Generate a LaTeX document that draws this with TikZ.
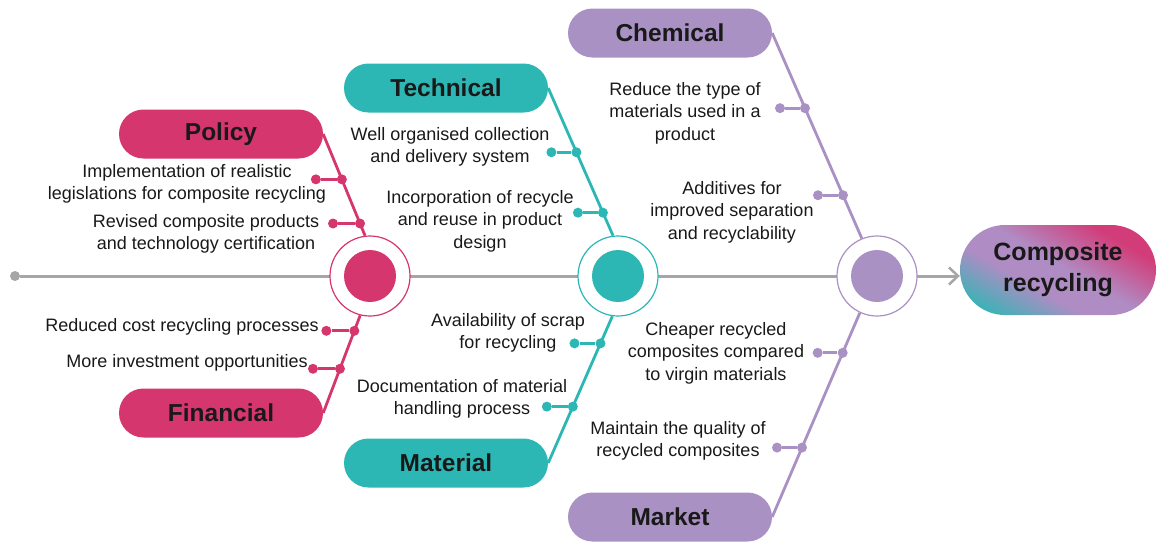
\documentclass[tikz,border=0pt]{standalone}
\usepackage{fontspec}
\setmainfont{Liberation Sans}
\usetikzlibrary{arrows.meta}
\definecolor{polpink}{RGB}{214,54,110}
\definecolor{techteal}{RGB}{45,183,180}
\definecolor{chempurple}{RGB}{169,145,196}
\definecolor{midlilac}{RGB}{176,140,196}
\definecolor{deeppink}{RGB}{210,60,120}
\definecolor{spinegray}{RGB}{166,166,166}
\definecolor{inkgray}{RGB}{25,25,25}
\pgfdeclareverticalshading{goalfade}{100bp}{color(0bp)=(techteal); color(20bp)=(techteal);
    color(40bp)=(midlilac); color(52bp)=(midlilac); color(72bp)=(deeppink); color(100bp)=(deeppink)}

\begin{document}
\begin{tikzpicture}[x=1pt,y=-1pt,
        every node/.style={text=inkgray},
        head/.style={rounded corners=24.5pt, minimum width=204pt, minimum height=49pt, inner sep=0pt,
            font=\fontsize{24.5}{28}\selectfont\bfseries},
        cause/.style={align=center, inner sep=0pt, font=\fontsize{18}{22.5}\selectfont},
        hub/.style={circle, fill=white, line width=1.2pt, minimum size=80pt, inner sep=0pt},
        core/.style={circle, minimum size=52pt, inner sep=0pt},
        bone/.style={line width=2.8pt},
        knot/.style={circle, minimum size=10pt, inner sep=0pt},
        spine/.style={line width=3pt, spinegray}]
        \useasboundingbox (0,0) rectangle (1158,541);

        % head of the fish
        \node[rounded corners=45pt, minimum width=196pt, minimum height=90pt, inner sep=0pt,
            shade, shading=goalfade, shading angle=-30,
            align=center, font=\fontsize{25}{31}\selectfont\bfseries] (goal) at (1058,270) {Composite\\recycling};

        % spine
        \node[knot, fill=spinegray] (tail) at (15,276) {};
        \draw[spine, -{Straight Barb[length=9pt, width=17pt, line width=2.5pt]}] (tail) -- (tail -| goal.west);

        \node[hub, draw=polpink] (hubP) at (370,276) {};
        \node[core, fill=polpink] (hubPin) at (hubP) {};
        \node[hub, draw=techteal] (hubT) at (618,276) {};
        \node[core, fill=techteal] (hubTin) at (hubT) {};
        \node[hub, draw=chempurple] (hubC) at (877,276) {};
        \node[core, fill=chempurple] (hubCin) at (hubC) {};

        % policy
        \begin{scope}[polpink]
            \node[head, fill=polpink] (policy) at (221,134) {Policy};
            \draw[bone] (policy.east) -- (hubP.97) coordinate[pos=.446] (pol1) coordinate[pos=.88] (pol2);
            \node[knot, fill] (pol1a) at (pol1) {};
            \node[knot, fill] (pol1b) at ([xshift=-26pt]pol1) {};
            \draw[bone] (pol1b) -- (pol1a);
            \node[knot, fill] (pol2a) at (pol2) {};
            \node[knot, fill] (pol2b) at ([xshift=-27pt]pol2) {};
            \draw[bone] (pol2b) -- (pol2a);
        \end{scope}
        \node[cause] (poltext1) at (187,184) {Implementation of realistic\\legislations for composite recycling};
        \node[cause] (poltext2) at (206,234) {Revised composite products\\and technology certification};

        % financial
        \begin{scope}[polpink]
            \node[head, fill=polpink] (financial) at (221,413) {Financial};
            \draw[bone] (hubP.256) -- (financial.east) coordinate[pos=.158] (fin1) coordinate[pos=.547] (fin2);
            \node[knot, fill] (fin1a) at (fin1) {};
            \node[knot, fill] (fin1b) at ([xshift=-28pt]fin1) {};
            \draw[bone] (fin1b) -- (fin1a);
            \node[knot, fill] (fin2a) at (fin2) {};
            \node[knot, fill] (fin2b) at ([xshift=-27pt]fin2) {};
            \draw[bone] (fin2b) -- (fin2a);
        \end{scope}
        \node[cause] (fintext1) at (182,327) {Reduced cost recycling processes};
        \node[cause] (fintext2) at (187,363) {More investment opportunities};

        % technical
        \begin{scope}[techteal]
            \node[head, fill=techteal] (technical) at (446,88) {Technical};
            \draw[bone] (technical.east) -- (hubT.97) coordinate[pos=.435] (tec1) coordinate[pos=.844] (tec2);
            \node[knot, fill] (tec1a) at (tec1) {};
            \node[knot, fill] (tec1b) at ([xshift=-25pt]tec1) {};
            \draw[bone] (tec1b) -- (tec1a);
            \node[knot, fill] (tec2a) at (tec2) {};
            \node[knot, fill] (tec2b) at ([xshift=-25pt]tec2) {};
            \draw[bone] (tec2b) -- (tec2a);
        \end{scope}
        \node[cause] (tectext1) at (450,147) {Well organised collection\\and delivery system};
        \node[cause] (tectext2) at (480,221) {Incorporation of recycle\\and reuse in product\\design};

        % material
        \begin{scope}[techteal]
            \node[head, fill=techteal] (material) at (446,463) {Material};
            \draw[bone] (hubT.262) -- (material.east) coordinate[pos=.185] (mat1) coordinate[pos=.616] (mat2);
            \node[knot, fill] (mat1a) at (mat1) {};
            \node[knot, fill] (mat1b) at ([xshift=-26pt]mat1) {};
            \draw[bone] (mat1b) -- (mat1a);
            \node[knot, fill] (mat2a) at (mat2) {};
            \node[knot, fill] (mat2b) at ([xshift=-26pt]mat2) {};
            \draw[bone] (mat2b) -- (mat2a);
        \end{scope}
        \node[cause] (mattext1) at (508,333) {Availability of scrap\\for recycling};
        \node[cause] (mattext2) at (462,399) {Documentation of material\\handling process};

        % chemical
        \begin{scope}[chempurple]
            \node[head, fill=chempurple] (chemical) at (670,33) {Chemical};
            \draw[bone] (chemical.east) -- (hubC.112) coordinate[pos=.366] (che1) coordinate[pos=.79] (che2);
            \node[knot, fill] (che1a) at (che1) {};
            \node[knot, fill] (che1b) at ([xshift=-25pt]che1) {};
            \draw[bone] (che1b) -- (che1a);
            \node[knot, fill] (che2a) at (che2) {};
            \node[knot, fill] (che2b) at ([xshift=-25pt]che2) {};
            \draw[bone] (che2b) -- (che2a);
        \end{scope}
        \node[cause] (chetext1) at (685,113) {Reduce the type of\\materials used in a\\product};
        \node[cause] (chetext2) at (732,212) {Additives for\\improved separation\\and recyclability};

        % market
        \begin{scope}[chempurple]
            \node[head, fill=chempurple] (market) at (670,517) {Market};
            \draw[bone] (hubC.245) -- (market.east) coordinate[pos=.196] (mar1) coordinate[pos=.66] (mar2);
            \node[knot, fill] (mar1a) at (mar1) {};
            \node[knot, fill] (mar1b) at ([xshift=-25pt]mar1) {};
            \draw[bone] (mar1b) -- (mar1a);
            \node[knot, fill] (mar2a) at (mar2) {};
            \node[knot, fill] (mar2b) at ([xshift=-25pt]mar2) {};
            \draw[bone] (mar2b) -- (mar2a);
        \end{scope}
        \node[cause] (martext1) at (716,353) {Cheaper recycled\\composites compared\\to virgin materials};
        \node[cause] (martext2) at (678,441) {Maintain the quality of\\recycled composites};
    \end{tikzpicture}
\end{document}
